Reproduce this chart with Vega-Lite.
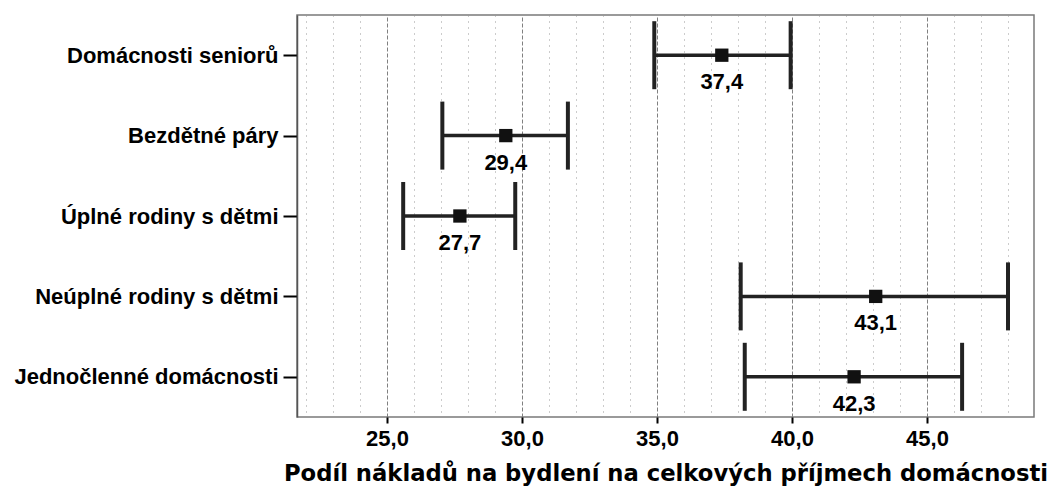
{
  "$schema": "https://vega.github.io/schema/vega-lite/v6.json",
  "width": 737,
  "height": 402,
  "autosize": {"type": "none"},
  "padding": {"left": 297, "top": 15, "right": 17, "bottom": 69},
  "config": {
    "locale": {"number": {"decimal": ",", "thousands": " ", "grouping": [3], "currency": ["", " Kč"]}},
    "view": {"stroke": "#7a7a7a", "strokeWidth": 1.5},
    "font": "Liberation Sans"
  },
  "data": {
    "values": [
      {"group": "Domácnosti seniorů", "mean": 37.4, "lo": 34.9, "hi": 39.95},
      {"group": "Bezdětné páry", "mean": 29.4, "lo": 27.05, "hi": 31.7},
      {"group": "Úplné rodiny s dětmi", "mean": 27.7, "lo": 25.6, "hi": 29.75},
      {"group": "Neúplné rodiny s dětmi", "mean": 43.1, "lo": 38.1, "hi": 48.0},
      {"group": "Jednočlenné domácnosti", "mean": 42.3, "lo": 38.25, "hi": 46.3}
    ]
  },
  "encoding": {
    "y": {
      "field": "group",
      "type": "nominal",
      "sort": null,
      "scale": {"type": "point", "padding": 0.5},
      "axis": {
        "title": null,
        "domain": true,
        "domainColor": "#555555",
        "domainWidth": 1.5,
        "grid": false,
        "ticks": true,
        "tickSize": 14,
        "tickWidth": 2,
        "tickColor": "#000000",
        "labelPadding": 5,
        "labelLimit": 0,
        "labelFont": "Liberation Sans",
        "labelFontWeight": "bold",
        "labelFontSize": 22,
        "labelColor": "#000000"
      }
    }
  },
  "layer": [
    {
      "mark": {"type": "rule", "color": "#222222", "strokeWidth": 3.5},
      "encoding": {
        "x": {
          "field": "lo",
          "type": "quantitative",
          "scale": {"domain": [21.667, 48.963], "nice": false, "zero": false},
          "axis": {
            "orient": "bottom",
            "values": [25, 30, 35, 40, 45],
            "format": ".1f",
            "grid": true,
            "gridColor": "#808080",
            "gridDash": [4, 2],
            "gridWidth": 1,
            "domain": false,
            "ticks": true,
            "tickSize": 6,
            "tickWidth": 2,
            "tickColor": "#000000",
            "labelPadding": 5,
            "labelFont": "Liberation Sans",
            "labelFontWeight": "bold",
            "labelFontSize": 22,
            "labelColor": "#000000",
            "labelFlush": false,
            "labelOverlap": false,
            "title": "Podíl nákladů na bydlení na celkových příjmech domácnosti",
            "titleFont": "DejaVu Sans",
            "titleFontWeight": "bold",
            "titleFontSize": 22.7,
            "titleColor": "#000000",
            "titlePadding": 13
          }
        },
        "x2": {"field": "hi"}
      }
    },
    {
      "mark": {"type": "tick", "color": "#222222", "opacity": 1, "thickness": 4, "size": 68, "orient": "vertical"},
      "encoding": {"x": {"field": "lo", "type": "quantitative", "axis": null}}
    },
    {
      "mark": {"type": "tick", "color": "#222222", "opacity": 1, "thickness": 4, "size": 68, "orient": "vertical"},
      "encoding": {"x": {"field": "hi", "type": "quantitative", "axis": null}}
    },
    {
      "mark": {"type": "point", "shape": "square", "filled": true, "color": "#111111", "size": 177, "opacity": 1},
      "encoding": {
        "x": {
          "field": "mean",
          "type": "quantitative",
          "axis": {
            "orient": "top",
            "values": [22, 23, 24, 26, 27, 28, 29, 31, 32, 33, 34, 36, 37, 38, 39, 41, 42, 43, 44, 46, 47, 48],
            "grid": true,
            "gridColor": "#999999",
            "gridDash": [1, 5],
            "gridWidth": 1,
            "labels": false,
            "ticks": false,
            "domain": false,
            "title": null
          }
        }
      }
    },
    {
      "mark": {"type": "text", "dy": 34, "baseline": "alphabetic", "align": "center", "font": "Liberation Sans", "fontWeight": "bold", "fontSize": 22, "color": "#000000"},
      "encoding": {
        "x": {"field": "mean", "type": "quantitative", "axis": null},
        "text": {"field": "mean", "type": "quantitative", "format": ".1f"}
      }
    }
  ],
  "resolve": {"axis": {"x": "independent"}}
}
